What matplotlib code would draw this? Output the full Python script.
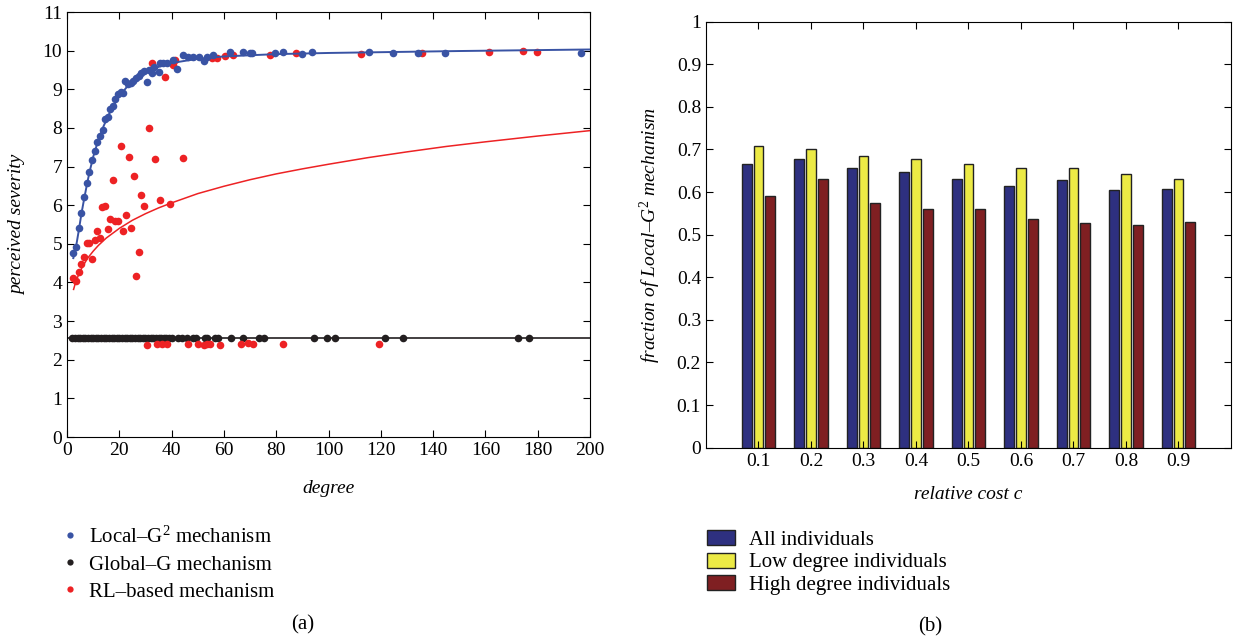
import matplotlib.pyplot as plt
from matplotlib.lines import Line2D
from matplotlib.patches import Patch

plt.rcParams['font.family'] = ['Liberation Serif', 'DejaVu Serif']
plt.rcParams['font.size'] = 14
plt.rcParams['mathtext.fontset'] = 'custom'
plt.rcParams['mathtext.rm'] = 'Liberation Serif'
plt.rcParams['mathtext.it'] = 'Liberation Serif:italic'

# panel (a) data
local_x = [2.4, 3.4, 4.5, 5.5, 6.5, 7.5, 8.5, 9.6, 10.6, 11.6, 12.6, 13.6, 14.7, 15.7,
           16.4, 17.5, 18.5, 19.5, 20.5, 21.5, 22.3, 23.3, 24.4, 25.4, 26.4, 27.4, 28.4,
           29.4, 30.5, 31.2, 32.5, 33.3, 35.3, 35.6, 36.8, 38.1, 40.4, 42.2, 44.2, 46.3,
           48.3, 50.4, 52.4, 53.4, 55.9, 62.3, 67.2, 70.0, 70.6, 79.5, 82.5, 89.7, 93.6,
           115.6, 124.5, 134.3, 144.6, 196.6]
local_y = [4.75, 4.93, 5.41, 5.80, 6.20, 6.57, 6.85, 7.17, 7.41, 7.63, 7.79, 7.95, 8.22, 8.29,
           8.48, 8.57, 8.76, 8.87, 8.92, 8.91, 9.21, 9.14, 9.15, 9.22, 9.28, 9.34, 9.41,
           9.48, 9.19, 9.51, 9.43, 9.57, 9.46, 9.67, 9.69, 9.69, 9.77, 9.52, 9.89, 9.84,
           9.83, 9.83, 9.74, 9.84, 9.88, 9.97, 9.97, 9.93, 9.95, 9.95, 9.97, 9.91, 9.97,
           9.96, 9.95, 9.95, 9.93, 9.95]

glob_x = [2, 3, 4, 5, 6, 7, 8, 9, 10, 11, 12, 13, 14, 15, 16, 17, 18, 19, 20, 21, 22, 23,
          24, 25, 26, 27, 28, 29, 30, 31, 32, 33, 34, 35, 36, 37, 38, 39, 40, 42.5, 44, 46,
          48, 49.3, 52.8, 53.4, 56.6, 57.8, 62.6, 67.4, 73.5, 75.3, 94.5, 99.3, 102.5,
          121.5, 128.4, 172.6, 176.6]
glob_y = [2.55] * len(glob_x)

rl_x = [32.4, 41.3, 40.4, 37.5, 55.3, 57.2, 60.4, 63.4, 77.6, 87.6, 112.4, 135.6, 161.5,
        174.5, 179.6, 31.5, 20.5, 23.6, 33.5, 44.5, 25.6, 17.5, 28.4, 35.4, 29.6, 39.5,
        13.5, 14.5, 16.4, 18.5, 19.5, 22.4, 21.5, 24.5, 15.6, 11.5, 12.6, 10.6, 7.5, 8.5,
        9.6, 6.5, 5.5, 4.5, 2.4, 3.4, 27.5, 26.5,
        30.5, 34.3, 36.2, 38.4, 46.4, 50.2, 52.4, 53.4, 54.7, 58.5, 66.4, 69.3, 71.2,
        82.5, 119.4]
rl_y = [9.69, 9.77, 9.62, 9.31, 9.80, 9.80, 9.86, 9.88, 9.88, 9.93, 9.91, 9.95, 9.97,
        9.98, 9.96, 8.00, 7.54, 7.24, 7.19, 7.21, 6.76, 6.64, 6.27, 6.14, 5.98, 6.03,
        5.96, 5.99, 5.65, 5.59, 5.59, 5.75, 5.33, 5.40, 5.38, 5.34, 5.16, 5.10, 5.01, 5.03,
        4.61, 4.67, 4.47, 4.28, 4.12, 4.04, 4.78, 4.18,
        2.38, 2.42, 2.42, 2.41, 2.41, 2.42, 2.38, 2.41, 2.41, 2.38, 2.42, 2.43, 2.41,
        2.40, 2.41]

# fitted curves
local_fit_x = [2.4, 3.5, 4.5, 5.5, 6.5, 7.5, 8.5, 10, 12, 14, 16, 18, 20, 23, 26, 30, 35,
               40, 50, 60, 80, 100, 150, 200]
local_fit_y = [4.63, 4.95, 5.35, 5.78, 6.15, 6.50, 6.83, 7.25, 7.70, 8.05, 8.35, 8.60, 8.82,
               9.07, 9.25, 9.43, 9.58, 9.68, 9.79, 9.85, 9.91, 9.94, 9.99, 10.03]
rl_fit_x = [2.5, 3, 4, 5, 6, 8, 10, 12, 15, 20, 25, 30, 35, 40, 50, 60, 70, 80, 90, 100,
            115, 130, 145, 160, 180, 200]
rl_fit_y = [3.82, 3.94, 4.13, 4.29, 4.42, 4.64, 4.81, 4.96, 5.15, 5.40, 5.61, 5.78, 5.93,
            6.06, 6.30, 6.49, 6.66, 6.81, 6.94, 7.06, 7.23, 7.38, 7.52, 7.64, 7.79, 7.93]
glob_fit_x = [0, 200]
glob_fit_y = [2.55, 2.55]

# panel (b) data
cost = [0.1, 0.2, 0.3, 0.4, 0.5, 0.6, 0.7, 0.8, 0.9]
frac_all = [0.667, 0.677, 0.656, 0.646, 0.631, 0.614, 0.628, 0.605, 0.607]
frac_low = [0.707, 0.700, 0.685, 0.678, 0.667, 0.657, 0.657, 0.643, 0.631]
frac_high = [0.591, 0.631, 0.574, 0.560, 0.560, 0.537, 0.527, 0.523, 0.530]

blue = '#3953a4'
red = '#ed2224'
black = '#231f20'

fig = plt.figure(figsize=(12.37, 6.42), dpi=100)

ax1 = fig.add_axes([0.0542, 0.3193, 0.4228, 0.662])
ax1.plot(glob_fit_x, glob_fit_y, color=black, lw=1.2, zorder=1)
ax1.plot(rl_fit_x, rl_fit_y, color=red, lw=1.1, zorder=1)
ax1.scatter(glob_x, glob_y, s=30, color=black, zorder=2, linewidths=0)
ax1.scatter(rl_x, rl_y, s=30, color=red, zorder=3, linewidths=0)
ax1.scatter(local_x, local_y, s=30, color=blue, zorder=4, linewidths=0)
ax1.plot(local_fit_x, local_fit_y, color=blue, lw=1.4, zorder=5)
ax1.set_xlim(0, 200)
ax1.set_ylim(0, 11)
ax1.set_xticks(range(0, 201, 20))
ax1.set_yticks(range(0, 12))
ax1.tick_params(direction='in', top=True, right=True, length=5)
ax1.set_xlabel('degree', style='italic', labelpad=15)
ax1.set_ylabel('perceived severity', style='italic', labelpad=12)

handles_a = [Line2D([], [], ls='', marker='o', ms=4.5, color=blue, mec='none'),
             Line2D([], [], ls='', marker='o', ms=4.5, color=black, mec='none'),
             Line2D([], [], ls='', marker='o', ms=4.5, color=red, mec='none')]
fig.legend(handles_a, ['Local\u2013G$^2$ mechanism', 'Global\u2013G mechanism',
                       'RL\u2013based mechanism'],
           loc='upper left', bbox_to_anchor=(0.033, 0.2095), frameon=False,
           handletextpad=0.4, labelspacing=0.36, handlelength=1.0, fontsize=15)

ax2 = fig.add_axes([0.5707, 0.3027, 0.4244, 0.6636])
bw = 0.0185
step = 0.0223
xb = [c - step for c in cost]
xr = [c + step for c in cost]
ax2.bar(xb, frac_all, bw, color='#2e3080', edgecolor='#222222', lw=1)
ax2.bar(cost, frac_low, bw, color='#ecea45', edgecolor='#222222', lw=1)
ax2.bar(xr, frac_high, bw, color='#7f1f22', edgecolor='#222222', lw=1)
ax2.set_xlim(0, 1)
ax2.set_ylim(0, 1)
ax2.set_xticks(cost)
ax2.set_xticklabels([str(c) for c in cost])
ax2.set_yticks([i / 10 for i in range(11)])
ax2.set_yticklabels(['0', '0.1', '0.2', '0.3', '0.4', '0.5', '0.6', '0.7', '0.8', '0.9', '1'])
ax2.tick_params(direction='in', top=True, right=True, length=5)
ax2.set_xlabel('relative cost c', style='italic', labelpad=12)
ax2.set_ylabel('fraction of Local\u2013G$^{2}$ mechanism', style='italic', labelpad=10)

handles_b = [Patch(facecolor='#2e3080', edgecolor='#222222'),
             Patch(facecolor='#ecea45', edgecolor='#222222'),
             Patch(facecolor='#7f1f22', edgecolor='#222222')]
fig.legend(handles_b, ['All individuals', 'Low degree individuals', 'High degree individuals'],
           loc='upper left', bbox_to_anchor=(0.556, 0.2037), frameon=False,
           handletextpad=0.67, labelspacing=0.13, handlelength=1.35, handleheight=0.75,
           fontsize=15)

fig.text(303 / 1237, 1 - 625 / 642, '(a)', ha='center', va='center', fontsize=15)
fig.text(930 / 1237, 1 - 627 / 642, '(b)', ha='center', va='center', fontsize=15)

plt.savefig('out.png', dpi=100)
